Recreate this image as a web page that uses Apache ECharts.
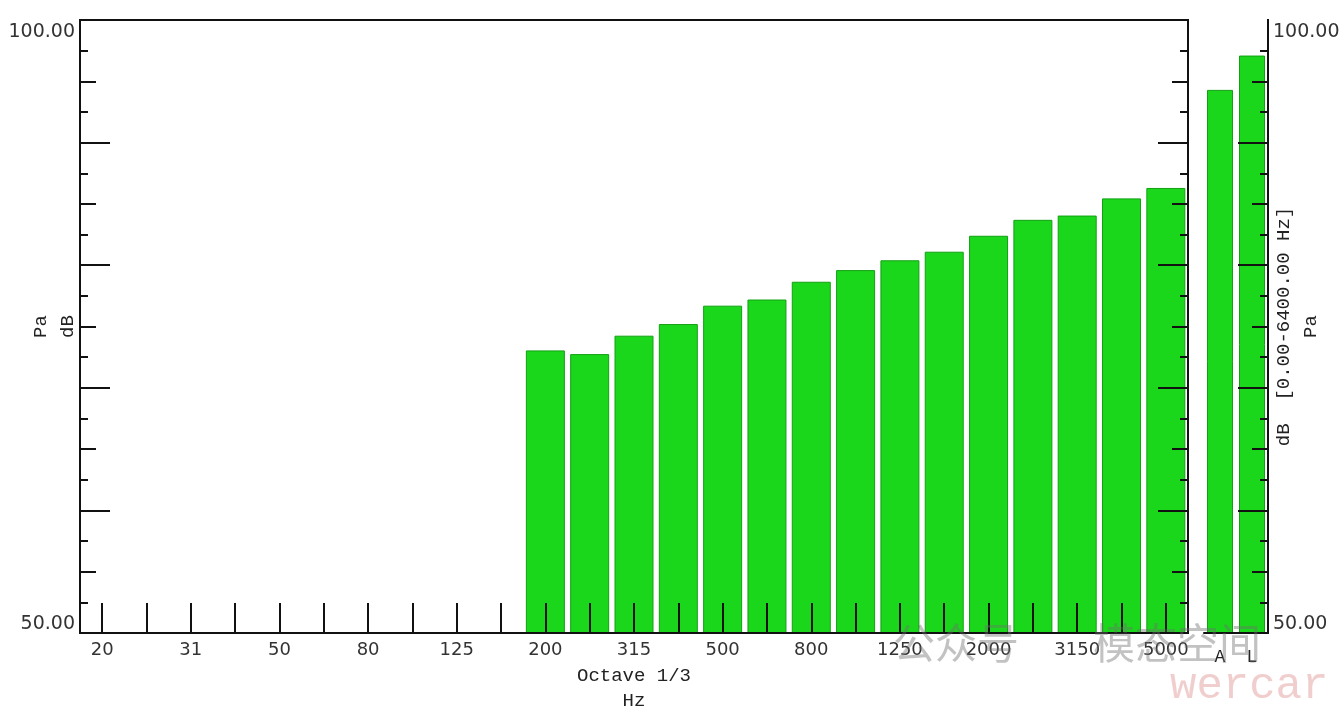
<!DOCTYPE html>
<html><head><meta charset="utf-8">
<script src="https://cdn.jsdelivr.net/npm/echarts@6/dist/echarts.min.js"></script>
<style>html,body{margin:0;padding:0;background:#fff}#c{width:1344px;height:712px}</style>
</head><body><div id="c"></div>
<script>
// 1/3-octave band centre frequencies (as labelled on the axis)
const bandLabels = ['20','25','31','40','50','63','80','100','125','160','200','250','315','400','500','630','800','1000','1250','1600','2000','2500','3150','4000','5000'];
// band levels, dB (no data below 200 Hz)
const bandLevels = [null,null,null,null,null,null,null,null,null,null,
  73.05, 72.75, 74.25, 75.2, 76.7, 77.2, 78.65, 79.6, 80.4, 81.1, 82.4, 83.7, 84.05, 85.45, 86.3];
// overall levels
const totalLabels = ['A','L'];
const totalLevels = [94.3, 97.1];
// axis range / labels / tick positions
const yMin = 50, yMax = 100;
const yLabelDigits = 2;
const longTicks = [60, 70, 80, 90];
const midTicks = [55, 65, 75, 85, 95];
const shortTicks = [52.5, 57.5, 62.5, 67.5, 72.5, 77.5, 82.5, 87.5, 92.5, 97.5];
const leftAxisName = 'Pa\ndB';
const rightAxisName = 'dB  [0.00-6400.00 Hz]\nPa';
const xAxisName = 'Octave 1/3\nHz';

const BLACK = '#111';
const GREEN = '#1bd71b';
const monoFont = '"Liberation Mono", "DejaVu Sans Mono", monospace';
const sansFont = '"DejaVu Sans", sans-serif';

function tickAxis(gridIndex, position, values, len, showLine) {
  return {
    type: 'value', gridIndex, position, min: yMin, max: yMax,
    z: 10,
    axisLine: {show: !!showLine, onZero: false, lineStyle: {color: BLACK, width: 2}},
    axisTick: {show: true, inside: true, length: len, customValues: values, lineStyle: {color: BLACK, width: 2}},
    axisLabel: {show: false}, splitLine: {show: false}
  };
}
function labelAxis(gridIndex, position, name, nameGap) {
  return {
    type: 'value', gridIndex, position, min: yMin, max: yMax, interval: yMax - yMin,
    z: 10,
    name, nameLocation: 'middle', nameRotate: 90, nameGap, nameMoveOverlap: false,
    nameTextStyle: {fontFamily: monoFont, fontSize: 19, color: '#222', lineHeight: 27},
    axisLine: {show: true, onZero: false, lineStyle: {color: BLACK, width: 2}},
    axisTick: {show: false},
    axisLabel: {
      show: true, margin: 5, color: '#333', fontFamily: sansFont, fontSize: 19,
      formatter: v => (v === yMax ? '{t|' : '{b|') + v.toFixed(yLabelDigits) + '}',
      rich: {
        t: {fontFamily: sansFont, fontSize: 19, color: '#333', padding: [24, 0, 0, 0]},
        b: {fontFamily: sansFont, fontSize: 19, color: '#333', padding: [0, 0, 18, 0]}
      }
    },
    splitLine: {show: false}
  };
}

const option = {
  animation: false,
  backgroundColor: '#fff',
  grid: [
    {left: 80, top: 20, width: 1108, height: 613, containLabel: false, outerBoundsMode: 'none',
     show: true, borderColor: BLACK, borderWidth: 2, backgroundColor: 'transparent'},
    {left: 1204, top: 20, width: 64, height: 613, containLabel: false, outerBoundsMode: 'none', show: false}
  ],
  xAxis: [
    {
      type: 'category', gridIndex: 0, data: bandLabels, z: 10,
      name: xAxisName, nameLocation: 'middle', nameGap: 30, nameMoveOverlap: false,
      nameTextStyle: {fontFamily: monoFont, fontSize: 19, color: '#222', lineHeight: 25},
      axisLine: {show: true, onZero: false, lineStyle: {color: BLACK, width: 2}},
      axisTick: {show: true, inside: true, length: 30, alignWithLabel: true, interval: 0, lineStyle: {color: BLACK, width: 2}},
      axisLabel: {interval: 1, margin: 8, color: '#333', fontFamily: sansFont, fontSize: 18}
    },
    {
      type: 'category', gridIndex: 1, data: totalLabels, z: 10, position: 'bottom',
      axisLine: {show: true, onZero: false, lineStyle: {color: BLACK, width: 2}},
      axisTick: {show: false},
      axisLabel: {interval: 0, margin: 15, color: '#222', fontFamily: monoFont, fontSize: 18}
    }
  ],
  yAxis: [
    labelAxis(0, 'left', leftAxisName, -1),
    tickAxis(0, 'left', longTicks, 30, false),
    tickAxis(0, 'left', midTicks, 16, false),
    tickAxis(0, 'left', shortTicks, 8, false),
    tickAxis(0, 'right', longTicks, 30, true),
    tickAxis(0, 'right', midTicks, 16, true),
    tickAxis(0, 'right', shortTicks, 8, true),
    labelAxis(1, 'right', rightAxisName, 2),
    tickAxis(1, 'right', longTicks, 30, true),
    tickAxis(1, 'right', midTicks, 16, true),
    tickAxis(1, 'right', shortTicks, 8, true)
  ],
  series: [
    {
      type: 'bar', xAxisIndex: 0, yAxisIndex: 0, data: bandLevels, barWidth: 39,
      itemStyle: {color: GREEN, borderColor: '#12a012', borderWidth: 1}, z: 2
    },
    {
      type: 'bar', xAxisIndex: 1, yAxisIndex: 7, data: totalLevels, barWidth: 26,
      itemStyle: {color: GREEN, borderColor: '#12a012', borderWidth: 1}, z: 2
    }
  ],
  graphic: [
    {type: 'text', left: 893, top: 622, silent: true, z: 100,
     style: {text: '公众号', font: '42px "Noto Sans CJK SC", sans-serif', fill: 'rgba(110,110,110,0.42)'}},
    {type: 'text', left: 1093, top: 622, silent: true, z: 100,
     style: {text: '模态空间', font: '42px "Noto Sans CJK SC", sans-serif', fill: 'rgba(110,110,110,0.42)'}},
    {type: 'text', left: 1170, top: 664, silent: true, z: 100,
     style: {text: 'wercar', font: '44px "Liberation Mono", monospace', fill: 'rgba(230,165,165,0.55)'}}
  ]
};
const chart = echarts.init(document.getElementById('c'), null, {renderer: 'canvas'});
chart.setOption(option);
</script>
</body></html>
